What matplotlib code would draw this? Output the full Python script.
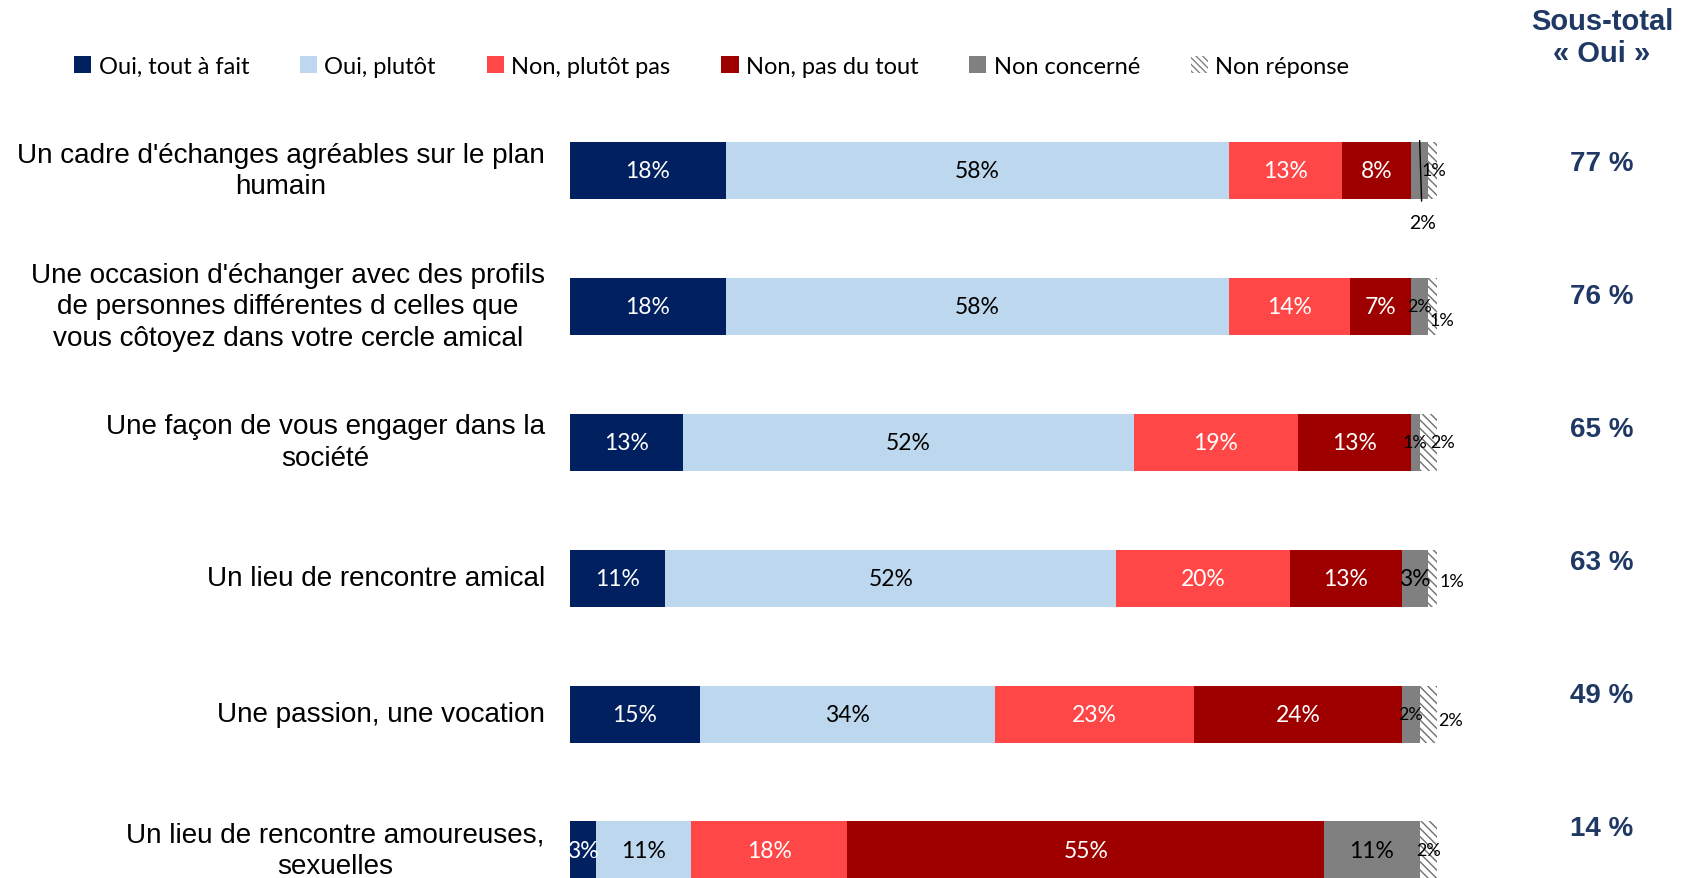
import matplotlib
matplotlib.use("Agg")
import numpy as np
from matplotlib import pyplot as plt
from matplotlib.patches import Patch

# data
categories = [
    "Un cadre d'échanges agréables sur le plan\nhumain",
    "Une occasion d'échanger avec des profils\nde personnes différentes d celles que\nvous côtoyez dans votre cercle amical",
    "Une façon de vous engager dans la\nsociété",
    "Un lieu de rencontre amical",
    "Une passion, une vocation",
    "Un lieu de rencontre amoureuses,\nsexuelles",
]
series_names = ["Oui, tout à fait", "Oui, plutôt", "Non, plutôt pas",
                "Non, pas du tout", "Non concerné", "Non réponse"]
oui_tout_a_fait = [18, 18, 13, 11, 15, 3]
oui_plutot = [58, 58, 52, 52, 34, 11]
non_plutot_pas = [13, 14, 19, 20, 23, 18]
non_pas_du_tout = [8, 7, 13, 13, 24, 55]
non_concerne = [2, 2, 1, 3, 2, 11]
non_reponse = [1, 1, 2, 1, 2, 2]
sous_total_oui = [77, 76, 65, 63, 49, 14]

colors = ["#002060", "#BDD7EE", "#FF4747", "#9E0000", "#808080", "white"]
text_colors = ["white", "black", "white", "white", "black", "black"]

W, H = 1692, 879
fig = plt.figure(figsize=(W / 100, H / 100), dpi=100)

# axes covers whole height; rows at y = 0..5
row0_px, step_px = 171.5, 135.9
ax = fig.add_axes([570 / W, 0, (1437 - 570) / W, 1])
ax.set_xlim(0, 100)
ax.set_ylim((H - row0_px) / step_px, -row0_px / step_px)
ax.axis("off")

label_font = "Lato"
data = [oui_tout_a_fait, oui_plutot, non_plutot_pas, non_pas_du_tout, non_concerne, non_reponse]
y = np.arange(len(categories))
left = np.zeros(len(categories))
bars = []
for k, vals in enumerate(data):
    vals = np.array(vals, dtype=float)
    if k == 5:
        ax.barh(y, vals, left=left, height=0.42, color="white",
                edgecolor="#707070", linewidth=0, hatch="\\\\\\\\")
    else:
        ax.barh(y, vals, left=left, height=0.42, color=colors[k],
                edgecolor="none")
    bars.append((vals, left.copy()))
    left = left + vals

# labels of the big segments
for k in range(4):
    vals, lft = bars[k]
    for i in range(len(y)):
        ax.text(lft[i] + vals[i] / 2, y[i], f"{int(vals[i])}%", ha="center",
                va="center", color=text_colors[k], fontsize=16.5, family=label_font)

# small segments: offsets in points (dx, dy) from segment centre
nc_offsets = [None, (0, 0), (0, 0), (0, 0), (0, 0), (0, 0)]
nr_offsets = [(1, 0), (7, -10), (10, 0), (14, -2), (16, -4), (0, 0)]
for k, offs in ((4, nc_offsets), (5, nr_offsets)):
    vals, lft = bars[k]
    for i in range(len(y)):
        xc = lft[i] + vals[i] / 2
        txt = f"{int(vals[i])}%"
        if offs[i] is None:
            ax.annotate(txt, xy=(xc, y[i] - 0.22), xytext=(xc + 0.3, y[i] + 0.38),
                        ha="center", va="center", fontsize=14, family=label_font,
                        arrowprops=dict(arrowstyle="-", color="black", lw=1,
                                        shrinkA=7, shrinkB=0))
            continue
        fs = 16.5 if (k == 4 and vals[i] >= 3) else 13
        ax.annotate(txt, xy=(xc, y[i]), xytext=offs[i], textcoords="offset points",
                    ha="center", va="center", fontsize=fs, family=label_font,
                    color="black")

# category labels
for i, cat in enumerate(categories):
    ax.text(-2.9, y[i], cat, ha="right", va="center", multialignment="center",
            fontsize=20.1, family="Liberation Sans", linespacing=1.28)

# sous-total column (its own slightly tighter spacing, as in the source slide)
for i, v in enumerate(sous_total_oui):
    fig.text(1602 / W, 1 - (164 + 133 * i) / H, f"{v} %", ha="center",
             va="center", fontsize=20, fontweight="bold", color="#1F3864",
             family="Liberation Sans")
fig.text(1602 / W, 1 - 38 / H, "Sous-total\n« Oui »", ha="center", va="center",
         fontsize=21, fontweight="bold", color="#1F3864", family="Liberation Sans",
         linespacing=1.2)

# legend
handles = [Patch(facecolor=c, edgecolor="none") for c in colors[:5]]
handles.append(Patch(facecolor="white", edgecolor="#808080", lw=0, hatch="\\\\\\\\\\"))
fig.legend(handles, series_names, loc="center left", bbox_to_anchor=(74 / W, 1 - 67 / H),
           ncol=6, frameon=False, borderpad=0, borderaxespad=0,
           handlelength=0.74, handleheight=0.74, handletextpad=0.3,
           columnspacing=2.15, prop={"family": label_font, "size": 17})

fig.savefig("out.png", dpi=100)
